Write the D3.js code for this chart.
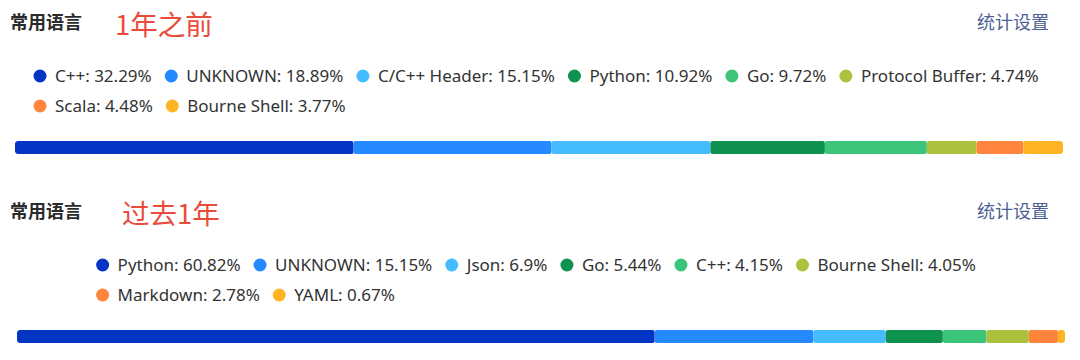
<!DOCTYPE html>
<html><head><meta charset="utf-8">
<script src="https://cdn.jsdelivr.net/npm/d3@7"></script>
<style>
html,body{margin:0;padding:0;background:#fff;}
svg{display:block;}
</style></head>
<body><svg id="c" width="1080" height="360"></svg>
<script>
const sectionTitle = "常用语言";
const periodLabels = ["1年之前", "过去1年"];
const settingsLabel = "统计设置";
const colors = ["#0434c4", "#2589ff", "#45bcff", "#0f9150", "#3cc57a", "#aac23e", "#ff853d", "#ffb423"];

const langs1 = ["C++", "UNKNOWN", "C/C++ Header", "Python", "Go", "Protocol Buffer", "Scala", "Bourne Shell"];
const vals1  = [32.29, 18.89, 15.15, 10.92, 9.72, 4.74, 4.48, 3.77];
const langs2 = ["Python", "UNKNOWN", "Json", "Go", "C++", "Bourne Shell", "Markdown", "YAML"];
const vals2  = [60.82, 15.15, 6.9, 5.44, 4.15, 4.05, 2.78, 0.67];

const svg = d3.select("#c");
const latin = "'Noto Sans','Noto Sans CJK SC',sans-serif";
const cjk = "'Noto Sans CJK SC','Noto Sans',sans-serif";

const panels = [
  {langs: langs1, vals: vals1, title: periodLabels[0], y0: 0, barX: 15, titleX: 115},
  {langs: langs2, vals: vals2, title: periodLabels[1], y0: 189, barX: 17, titleX: 122}
];

panels.forEach((p, pi) => {
  const g = svg.append("g").attr("transform", `translate(0,${p.y0})`);
  g.append("text").attr("x", 10).attr("y", 29).text(sectionTitle)
    .attr("font-family", cjk).attr("font-weight", 700).attr("font-size", 18).attr("fill", "#2b2b2b");
  g.append("text").attr("x", p.titleX).attr("y", 35).text(p.title)
    .attr("font-family", cjk).attr("font-size", 27.5).attr("fill", "#ea4b3b");
  g.append("text").attr("x", 1049).attr("y", 29).attr("text-anchor", "end").text(settingsLabel)
    .attr("font-family", cjk).attr("font-size", 18).attr("fill", "#4d5f95");

  // legend with wrapping flow layout, block centred
  const items = p.langs.map((l, i) => ({label: `${l}: ${p.vals[i]}%`, color: colors[i]}));
  const lg = g.append("g");
  const texts = items.map(it => lg.append("text").text(it.label)
    .attr("font-family", latin).attr("font-size", 17).attr("fill", "#333"));
  const widths = texts.map(t => t.node().getComputedTextLength());
  const maxW = 1030, dotToText = 15, gap = 13, r = 6.5;
  let rows = [[]], cur = 0;
  items.forEach((it, i) => {
    const w = 2 * r + (dotToText - r) + widths[i];
    if (rows[rows.length-1].length && cur + gap + w > maxW) { rows.push([]); cur = 0; }
    if (rows[rows.length-1].length) cur += gap;
    rows[rows.length-1].push({i, x: cur});
    cur += w;
  });
  const rowWidths = rows.map(row => { const last = row[row.length-1]; return last.x + r + dotToText + widths[last.i]; });
  const blockW = d3.max(rowWidths);
  const startX = 536 - blockW / 2;
  rows.forEach((row, ri) => {
    const cy = 76 + ri * 30;
    row.forEach(({i, x}) => {
      const cx = startX + x + r;
      lg.append("circle").attr("cx", cx).attr("cy", cy).attr("r", r).attr("fill", items[i].color);
      texts[i].attr("x", cx + dotToText).attr("y", cy + 6);
    });
  });

  // stacked bar
  const total = d3.sum(p.vals);
  const xs = d3.scaleLinear().domain([0, total]).range([p.barX, p.barX + 1048]);
  const cum = d3.cumsum(p.vals);
  const starts = [0, ...cum.slice(0, -1)];
  const clipId = "clip" + pi;
  g.append("clipPath").attr("id", clipId).append("rect")
    .attr("x", xs(0)).attr("y", 141).attr("width", xs(total) - xs(0)).attr("height", 13).attr("rx", 3);
  g.append("g").attr("clip-path", `url(#${clipId})`)
    .selectAll("rect").data(p.vals).join("rect")
    .attr("x", (d, i) => xs(starts[i]))
    .attr("y", 141).attr("height", 13)
    .attr("width", (d, i) => xs(cum[i]) - xs(starts[i]))
    .attr("rx", 2)
    .attr("fill", (d, i) => colors[i]);
});
</script></body></html>
